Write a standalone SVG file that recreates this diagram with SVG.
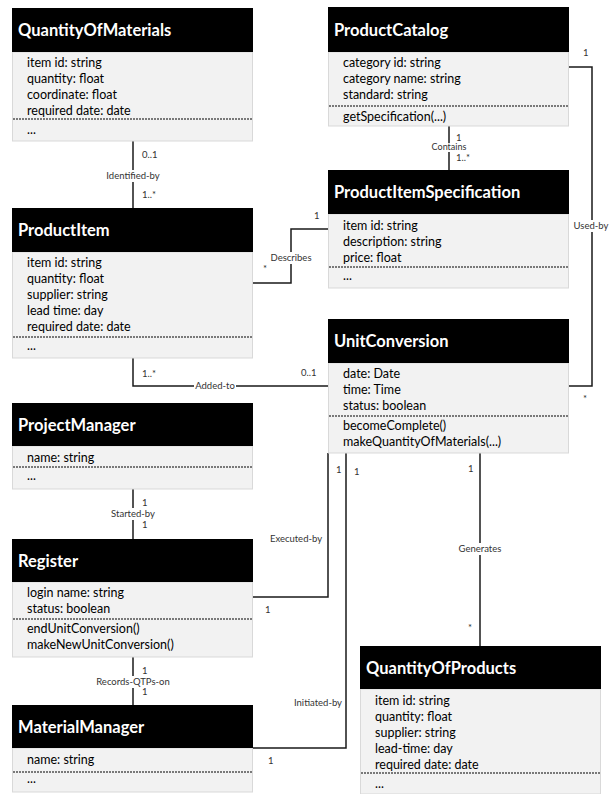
<svg xmlns="http://www.w3.org/2000/svg" width="616" height="794" viewBox="0 0 616 794">
<style>
.hd{fill:#000}
.bd{fill:#f2f2f2;stroke:#d9d9d9;stroke-width:1}
.tt{font-family:Lato,"Liberation Sans",sans-serif;font-weight:bold;font-size:16.5px;fill:#fff}
.at{font-family:Lato,"Liberation Sans",sans-serif;font-size:12.5px;fill:#000}
.dl{stroke:#000;stroke-width:1;stroke-dasharray:2 1}
.cn{fill:none;stroke:#1a1a1a;stroke-width:1.5}
.lb{font-family:Lato,"Liberation Sans",sans-serif;font-size:9.5px;fill:#333}
.bg{fill:#fff}
</style>
<rect width="616" height="794" fill="#fff"/>
<g id="connectors">
  <path class="cn" d="M133 141V208"/>
  <path class="cn" d="M253 283H291V229H330"/>
  <path class="cn" d="M133 358V386H330"/>
  <path class="cn" d="M449 126V170"/>
  <path class="cn" d="M569 67H592V386H569"/>
  <path class="cn" d="M133 489V539"/>
  <path class="cn" d="M253 597H328V453"/>
  <path class="cn" d="M346 453V748H253"/>
  <path class="cn" d="M480 453V646"/>
  <path class="cn" d="M133 657V705"/>
  <rect class="bg" x="104" y="170" width="58" height="12"/>
  <text class="lb" x="133" y="179" text-anchor="middle">Identified-by</text>
  <text class="lb" x="142" y="158">0..1</text>
  <text class="lb" x="142" y="198">1..*</text>
  <rect class="bg" x="268" y="252" width="46" height="12"/>
  <text class="lb" x="291" y="261" text-anchor="middle">Describes</text>
  <text class="lb" x="263" y="272">*</text>
  <text class="lb" x="314" y="219">1</text>
  <rect class="bg" x="194" y="380" width="42" height="12"/>
  <text class="lb" x="215" y="389" text-anchor="middle">Added-to</text>
  <text class="lb" x="142" y="377">1..*</text>
  <text class="lb" x="301" y="376">0..1</text>
  <rect class="bg" x="430" y="143" width="38" height="9"/>
  <text class="lb" x="449" y="150" text-anchor="middle" style="font-size:9px">Contains</text>
  <text class="lb" x="456" y="140.5">1</text>
  <text class="lb" x="456" y="161">1..*</text>
  <rect class="bg" x="572" y="220" width="38" height="12"/>
  <text class="lb" x="591" y="229" text-anchor="middle">Used-by</text>
  <text class="lb" x="583" y="56">1</text>
  <text class="lb" x="583" y="402">*</text>
  <rect class="bg" x="108" y="508" width="50" height="12"/>
  <text class="lb" x="133" y="517" text-anchor="middle">Started-by</text>
  <text class="lb" x="142" y="506">1</text>
  <text class="lb" x="142" y="528">1</text>
  <text class="lb" x="296" y="542" text-anchor="middle">Executed-by</text>
  <text class="lb" x="265" y="613">1</text>
  <text class="lb" x="336" y="473">1</text>
  <text class="lb" x="318" y="706" text-anchor="middle">Initiated-by</text>
  <text class="lb" x="354" y="475">1</text>
  <text class="lb" x="268" y="764">1</text>
  <rect class="bg" x="457" y="543" width="46" height="12"/>
  <text class="lb" x="480" y="552" text-anchor="middle">Generates</text>
  <text class="lb" x="468" y="472">1</text>
  <text class="lb" x="468" y="631">*</text>
  <rect class="bg" x="95" y="676" width="76" height="12"/>
  <text class="lb" x="133" y="685" text-anchor="middle">Records-QTPs-on</text>
  <text class="lb" x="142" y="674">1</text>
  <text class="lb" x="142" y="695">1</text>
</g>
<g id="QuantityOfMaterials">
  <rect class="bd" x="12.5" y="52" width="240" height="89"/>
  <rect class="hd" x="12" y="8" width="241" height="44"/>
  <text class="tt" x="18" y="36">QuantityOfMaterials</text>
  <text class="at" x="27" y="67">item id: string</text>
  <text class="at" x="27" y="83">quantity: float</text>
  <text class="at" x="27" y="99">coordinate: float</text>
  <text class="at" x="27" y="115">required date: date</text>
  <line class="dl" x1="13" y1="119" x2="252" y2="119"/>
  <text class="at" x="27" y="134">...</text>
</g>
<g id="ProductItem">
  <rect class="bd" x="12.5" y="252" width="240" height="106"/>
  <rect class="hd" x="12" y="208" width="241" height="44"/>
  <text class="tt" x="18" y="236">ProductItem</text>
  <text class="at" x="27" y="267">item id: string</text>
  <text class="at" x="27" y="283">quantity: float</text>
  <text class="at" x="27" y="299">supplier: string</text>
  <text class="at" x="27" y="315">lead time: day</text>
  <text class="at" x="27" y="331">required date: date</text>
  <line class="dl" x1="13" y1="337" x2="252" y2="337"/>
  <text class="at" x="27" y="350">...</text>
</g>
<g id="ProductCatalog">
  <rect class="bd" x="328.5" y="52" width="240" height="74"/>
  <rect class="hd" x="328" y="7" width="241" height="45"/>
  <text class="tt" x="334" y="36">ProductCatalog</text>
  <text class="at" x="343" y="67">category id: string</text>
  <text class="at" x="343" y="83">category name: string</text>
  <text class="at" x="343" y="99">standard: string</text>
  <line class="dl" x1="329" y1="106" x2="568" y2="106"/>
  <text class="at" x="343" y="121">getSpecification(...)</text>
</g>
<g id="ProductItemSpecification">
  <rect class="bd" x="328.5" y="214" width="240" height="74"/>
  <rect class="hd" x="328" y="170" width="241" height="44"/>
  <text class="tt" x="334" y="198">ProductItemSpecification</text>
  <text class="at" x="343" y="230">item id: string</text>
  <text class="at" x="343" y="246">description: string</text>
  <text class="at" x="343" y="262">price: float</text>
  <line class="dl" x1="329" y1="267" x2="568" y2="267"/>
  <text class="at" x="343" y="280">...</text>
</g>
<g id="UnitConversion">
  <rect class="bd" x="328.5" y="363" width="240" height="90"/>
  <rect class="hd" x="328" y="319" width="241" height="44"/>
  <text class="tt" x="334" y="347">UnitConversion</text>
  <text class="at" x="343" y="378">date: Date</text>
  <text class="at" x="343" y="394">time: Time</text>
  <text class="at" x="343" y="410">status: boolean</text>
  <line class="dl" x1="329" y1="416" x2="568" y2="416"/>
  <text class="at" x="343" y="430">becomeComplete()</text>
  <text class="at" x="343" y="446">makeQuantityOfMaterials(...)</text>
</g>
<g id="ProjectManager">
  <rect class="bd" x="12.5" y="446" width="240" height="43"/>
  <rect class="hd" x="12" y="403" width="241" height="43"/>
  <text class="tt" x="18" y="431">ProjectManager</text>
  <text class="at" x="27" y="462">name: string</text>
  <line class="dl" x1="13" y1="467" x2="252" y2="467"/>
  <text class="at" x="27" y="480">...</text>
</g>
<g id="Register">
  <rect class="bd" x="12.5" y="582" width="240" height="75"/>
  <rect class="hd" x="12" y="539" width="241" height="43"/>
  <text class="tt" x="18" y="567">Register</text>
  <text class="at" x="27" y="597">login name: string</text>
  <text class="at" x="27" y="613">status: boolean</text>
  <line class="dl" x1="13" y1="619" x2="252" y2="619"/>
  <text class="at" x="27" y="633">endUnitConversion()</text>
  <text class="at" x="27" y="649">makeNewUnitConversion()</text>
</g>
<g id="MaterialManager">
  <rect class="bd" x="12.5" y="748" width="240" height="44"/>
  <rect class="hd" x="12" y="705" width="241" height="43"/>
  <text class="tt" x="18" y="733">MaterialManager</text>
  <text class="at" x="27" y="764">name: string</text>
  <line class="dl" x1="13" y1="772" x2="252" y2="772"/>
  <text class="at" x="27" y="783">...</text>
</g>
<g id="QuantityOfProducts">
  <rect class="bd" x="360.5" y="689" width="240" height="105"/>
  <rect class="hd" x="360" y="646" width="241" height="43"/>
  <text class="tt" x="366" y="674">QuantityOfProducts</text>
  <text class="at" x="375" y="705">item id: string</text>
  <text class="at" x="375" y="721">quantity: float</text>
  <text class="at" x="375" y="737">supplier: string</text>
  <text class="at" x="375" y="753">lead-time: day</text>
  <text class="at" x="375" y="769">required date: date</text>
  <line class="dl" x1="361" y1="773" x2="600" y2="773"/>
  <text class="at" x="375" y="788">...</text>
</g>
</svg>
